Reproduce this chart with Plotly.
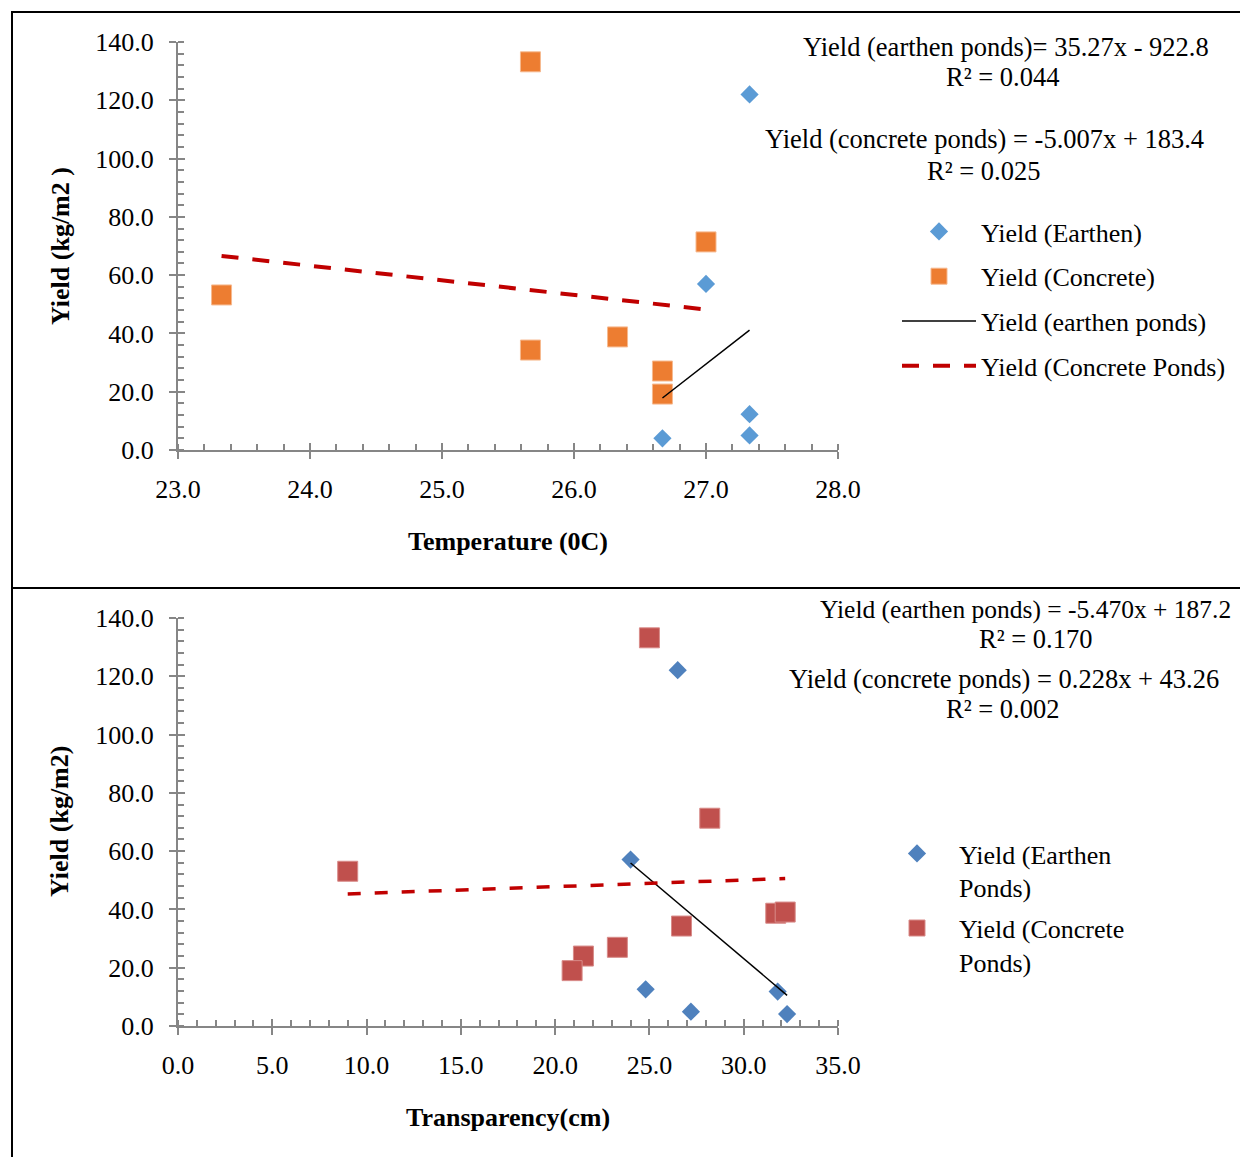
import plotly.graph_objects as go

# the page adds an 8px body margin, so the figure is drawn 8px smaller and
# reference pixel positions are shifted by that margin
OFF = 8
W, H = 1248 - OFF, 1157 - OFF

# ---------------- data ----------------
# Top panel: temperature
temp_earthen = [27.33, 27.0, 27.33, 27.33, 26.67]
yield_earthen_t = [122.0, 57.0, 12.3, 5.0, 4.0]
temp_concrete = [25.67, 27.0, 23.33, 25.67, 26.33, 26.67, 26.67]
yield_concrete_t = [133.2, 71.4, 53.2, 34.3, 38.8, 27.1, 19.2]
trend_t_earthen = (35.27, -922.8)
trend_t_concrete = (-5.007, 183.4)

# Bottom panel: transparency
transp_earthen = [26.5, 24.0, 24.8, 27.2, 31.8, 32.3]
yield_earthen_b = [122.1, 57.1, 12.6, 4.9, 11.8, 4.1]
transp_concrete = [25.0, 28.2, 9.0, 26.7, 31.7, 32.2, 23.3, 21.5, 20.9]
yield_concrete_b = [133.2, 71.3, 53.1, 34.3, 38.7, 39.1, 27.0, 24.0, 19.0]
trend_b_earthen = (-5.470, 187.2)
trend_b_concrete = (0.228, 43.26)

top_x_ticks = [23.0, 24.0, 25.0, 26.0, 27.0, 28.0]
bot_x_ticks = [0.0, 5.0, 10.0, 15.0, 20.0, 25.0, 30.0, 35.0]
y_ticks = [0.0, 20.0, 40.0, 60.0, 80.0, 100.0, 120.0, 140.0]

FONT = "Liberation Serif"
AX = "#868686"


def px(x):
    return (x - OFF) / W


def py(y):
    return 1 - (y - OFF) / H


def trend(coef, xs):
    a, b = coef
    x0, x1 = min(xs), max(xs)
    return [x0, x1], [a * x0 + b, a * x1 + b]


fig = go.Figure()

# ---- top panel
fig.add_trace(go.Scatter(x=temp_earthen, y=yield_earthen_t, mode="markers", name="Yield (Earthen)",
                         marker=dict(symbol="diamond", size=14, color="#5B9BD5"),
                         xaxis="x", yaxis="y", legend="legend", legendgroup="a"))
fig.add_trace(go.Scatter(x=temp_concrete, y=yield_concrete_t, mode="markers", name="Yield (Concrete)",
                         marker=dict(symbol="square", size=20, color="#ED7D31",
                                     line=dict(width=1, color="#F6B98F")),
                         xaxis="x", yaxis="y", legend="legend", legendgroup="b"))
tx, ty = trend(trend_t_earthen, temp_earthen)
fig.add_trace(go.Scatter(x=tx, y=ty, mode="lines", name="Yield (earthen ponds)",
                         line=dict(color="black", width=1.5),
                         xaxis="x", yaxis="y", legend="legend", legendgroup="c"))
tx, ty = trend(trend_t_concrete, temp_concrete)
fig.add_trace(go.Scatter(x=tx, y=ty, mode="lines", name="Yield (Concrete Ponds)",
                         line=dict(color="#C00000", width=4, dash="17px,14px"),
                         xaxis="x", yaxis="y", legend="legend", legendgroup="d"))

# ---- bottom panel
fig.add_trace(go.Scatter(x=transp_earthen, y=yield_earthen_b, mode="markers", name="Yield (Earthen<br>Ponds)",
                         marker=dict(symbol="diamond", size=14, color="#4F81BD"),
                         xaxis="x2", yaxis="y2", legend="legend2", legendgroup="e"))
fig.add_trace(go.Scatter(x=transp_concrete, y=yield_concrete_b, mode="markers", name="Yield (Concrete<br>Ponds)",
                         marker=dict(symbol="square", size=20, color="#C0504D",
                                     line=dict(width=1, color="#D88B89")),
                         xaxis="x2", yaxis="y2", legend="legend2", legendgroup="f"))
tx, ty = trend(trend_b_earthen, transp_earthen)
fig.add_trace(go.Scatter(x=tx, y=ty, mode="lines", showlegend=False,
                         line=dict(color="black", width=1.5), xaxis="x2", yaxis="y2"))
tx, ty = trend(trend_b_concrete, transp_concrete)
fig.add_trace(go.Scatter(x=tx, y=ty, mode="lines", showlegend=False,
                         line=dict(color="#C00000", width=3.5, dash="13px,14px"), xaxis="x2", yaxis="y2"))

# empty traces for overlay axes (inner half of the crossing major ticks)
fig.add_trace(go.Scatter(x=[], y=[], xaxis="x3", yaxis="y3", showlegend=False))
fig.add_trace(go.Scatter(x=[], y=[], xaxis="x4", yaxis="y4", showlegend=False))

dom_x = [px(178), px(838)]
dom_y_top = [py(450), py(42)]
dom_y_bot = [py(1026), py(618)]

tickfont = dict(family=FONT, size=26, color="black")


def xaxis(rng, ticks, minor_dt, anchor):
    return dict(domain=dom_x, range=rng, anchor=anchor, tickvals=ticks, automargin=False,
                ticktext=[f"{t:.1f}" for t in ticks], ticks="outside", ticklen=7,
                tickwidth=1.5, tickcolor=AX, showline=True, linecolor=AX, linewidth=2,
                showgrid=False, zeroline=False, tickfont=tickfont, ticklabelstandoff=8,
                minor=dict(ticks="inside", dtick=minor_dt, ticklen=6, tickwidth=1.5, tickcolor=AX,
                           showgrid=False, tick0=rng[0]))


def yaxis(dom, anchor):
    return dict(domain=dom, range=[0, 140], anchor=anchor, tickvals=y_ticks, automargin=False,
                ticktext=[f"{t:.1f}" for t in y_ticks], ticks="outside", ticklen=7,
                tickwidth=1.5, tickcolor=AX, showline=True, linecolor=AX, linewidth=2,
                showgrid=False, zeroline=False, tickfont=tickfont, ticklabelstandoff=10,
                minor=dict(ticks="inside", dtick=4, ticklen=6, tickwidth=1.5, tickcolor=AX,
                           showgrid=False, tick0=0))


def overlay_x(rng, ticks, over, anchor):
    return dict(range=rng, overlaying=over, anchor=anchor, side="bottom", tickvals=ticks,
                automargin=False,
                ticks="inside", ticklen=7, tickwidth=1.5, tickcolor=AX, showticklabels=False,
                showline=False, showgrid=False, zeroline=False)


def overlay_y(over, anchor):
    return dict(range=[0, 140], overlaying=over, anchor=anchor, side="left", tickvals=y_ticks,
                automargin=False,
                ticks="inside", ticklen=7, tickwidth=1.5, tickcolor=AX, showticklabels=False,
                showline=False, showgrid=False, zeroline=False)


annots = []


def text(s, x, y, size=26.5, bold=False, xanchor="center", angle=0):
    annots.append(dict(text=f"<b>{s}</b>" if bold else s, x=px(x), y=py(y), xref="paper", yref="paper",
                       xanchor=xanchor, yanchor="middle", showarrow=False, textangle=angle,
                       font=dict(family=FONT, size=size, color="black")))


text("Yield (earthen ponds)= 35.27x - 922.8", 1006, 47)
text("R² = 0.044", 1003, 77)
text("Yield (concrete ponds) = -5.007x + 183.4", 984, 139)
text("R² = 0.025", 983, 171)
text("Yield (earthen ponds) = -5.470x + 187.2", 818, 609, size=25.5, xanchor="left")
text("R² = 0.170", 1035, 639)
text("Yield (concrete ponds) = 0.228x + 43.26", 1004, 679)
text("R² = 0.002", 1003, 709)
text("Temperature (0C)", 508, 541, size=26, bold=True)
text("Transparency(cm)", 508, 1117, size=26, bold=True)
text("Yield (kg/m2 )", 60, 246, size=26, bold=True, angle=-90)
text("Yield (kg/m2)", 60, 822, size=26, bold=True, angle=-90)

shapes = [
    dict(type="line", xref="paper", yref="paper", x0=px(12), x1=1.01, y0=py(12), y1=py(12),
         line=dict(color="black", width=2)),
    dict(type="line", xref="paper", yref="paper", x0=px(12), x1=px(12), y0=py(11), y1=-0.01,
         line=dict(color="black", width=2)),
    dict(type="line", xref="paper", yref="paper", x0=px(12), x1=1.01, y0=py(588), y1=py(588),
         line=dict(color="black", width=2)),
]

fig.update_layout(
    template="none",
    width=W, height=H, autosize=False,
    margin=dict(l=0, r=0, t=0, b=0, pad=0, autoexpand=False),
    paper_bgcolor="white", plot_bgcolor="rgba(0,0,0,0)",
    font=dict(family=FONT, size=26, color="black"),
    xaxis=xaxis([23, 28], top_x_ticks, 0.2, "y"),
    yaxis=yaxis(dom_y_top, "x"),
    xaxis2=xaxis([0, 35], bot_x_ticks, 1.0, "y2"),
    yaxis2=yaxis(dom_y_bot, "x2"),
    xaxis3=overlay_x([23, 28], top_x_ticks, "x", "y"),
    yaxis3=overlay_y("y", "x"),
    xaxis4=overlay_x([0, 35], bot_x_ticks, "x2", "y2"),
    yaxis4=overlay_y("y2", "x2"),
    legend=dict(x=px(897), y=py(208), xanchor="left", yanchor="top", bgcolor="rgba(0,0,0,0)",
                font=dict(family=FONT, size=26, color="black"), itemwidth=74, tracegroupgap=8,
                traceorder="grouped"),
    legend2=dict(x=px(875), y=py(830), xanchor="left", yanchor="top", bgcolor="rgba(0,0,0,0)",
                 font=dict(family=FONT, size=26, color="black"), itemwidth=74, tracegroupgap=4,
                 valign="top", traceorder="grouped"),
    annotations=annots,
    shapes=shapes,
    showlegend=True,
)

fig.write_html("out.html")
